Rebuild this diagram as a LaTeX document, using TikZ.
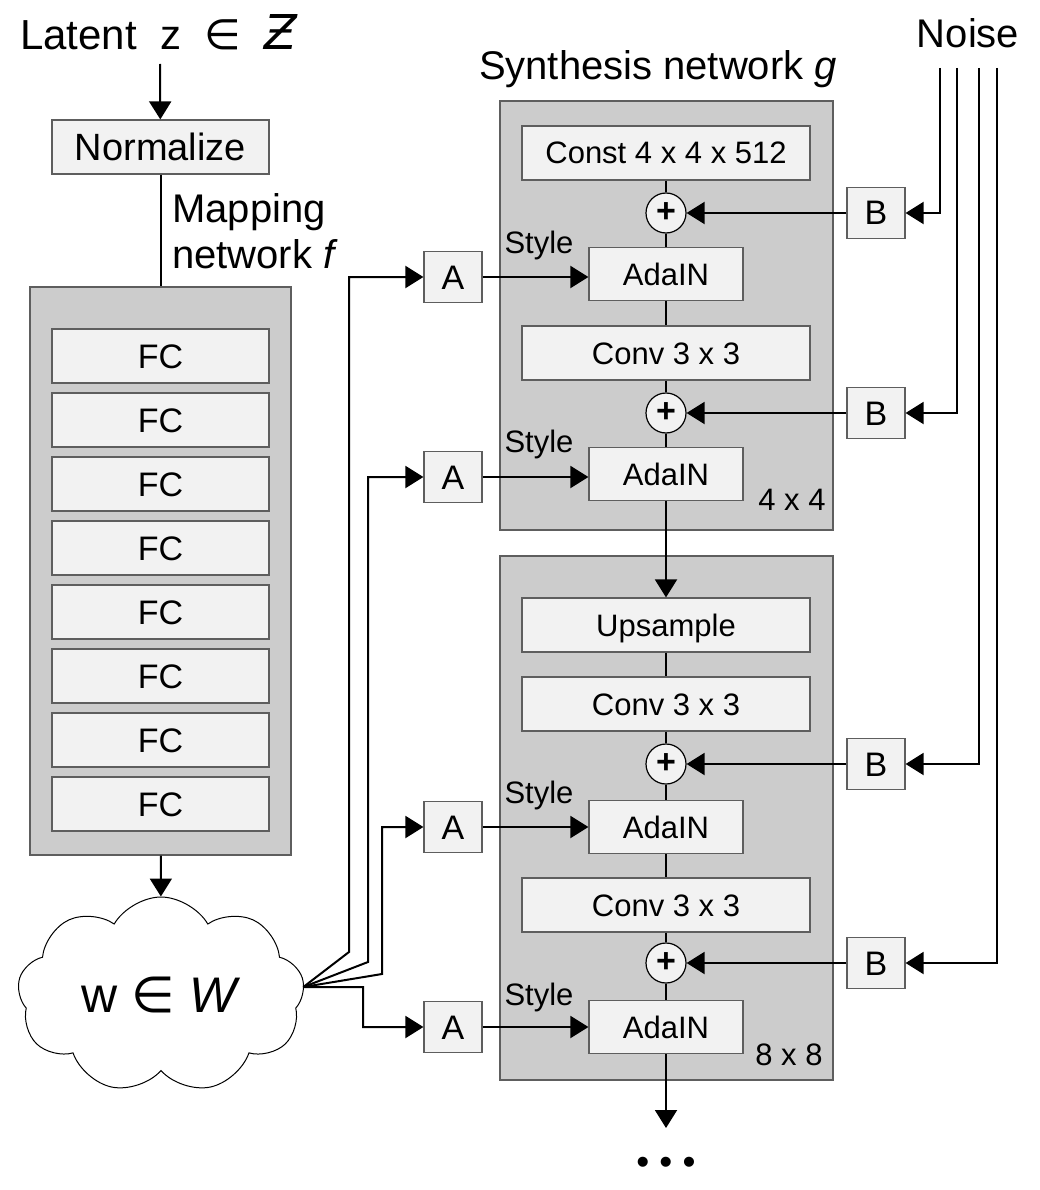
\documentclass[tikz,border=0pt]{standalone}
\usepackage{fontspec}
\setmainfont{Liberation Sans}
\newfontfamily\symfont{DejaVu Sans}
\usetikzlibrary{arrows.meta,shapes.symbols}

\definecolor{boxfill}{HTML}{F2F2F2}
\definecolor{stagefill}{HTML}{CCCCCC}
\definecolor{boxline}{HTML}{5E5E5E}

\newcommand{\boxsize}{\fontsize{31}{36}\selectfont}
\newcommand{\labsize}{\fontsize{40}{46}\selectfont}

\begin{document}
\begin{tikzpicture}[
  x=1pt, y=-1pt,
  box/.style={rectangle, draw=boxline, fill=boxfill, line width=1.2pt, inner sep=0pt,
    text height=22pt, text depth=0pt, font=\boxsize},
  widebox/.style={box, minimum width=288pt, minimum height=54pt},
  fcbox/.style={box, minimum width=217pt, minimum height=54pt},
  adabox/.style={box, minimum width=154pt, minimum height=53pt},
  abbox/.style={box, minimum width=58pt, minimum height=51pt,
    text height=24pt, font=\fontsize{34}{38}\selectfont},
  stage/.style={rectangle, draw=boxline, fill=stagefill, line width=1.2pt, inner sep=0pt},
  sum/.style={circle, draw=black, fill=boxfill, minimum size=40pt, inner sep=0pt,
    line width=1.2pt, font=\fontsize{34}{34}\selectfont\bfseries},
  link/.style={line width=2pt},
  flow/.style={link, -{Triangle[length=18pt, width=22pt]}},
  note/.style={inner sep=0pt, font=\boxsize}
]
  \useasboundingbox (0,0) rectangle (1039,1190);

  % Mapping network f
  \node[inner sep=0pt, anchor=base west, font=\fontsize{42}{46}\selectfont] (latent) at (20,50)
    {Latent\ \ z\ \ {\symfont ∈}\ \ {\symfont\itshape\fontsize{48}{48}\selectfont Ƶ}};
  \coordinate (zin) at (160,64);
  \node[fcbox, text height=27pt, font=\fontsize{38}{42}\selectfont] (norm) at (160.5,147) {Normalize};
  \node[inner sep=0pt, anchor=base west, align=left, font=\labsize] (mapname) at (172,268)
    {Mapping\\network \textit{f}};
  \node[stage, minimum width=261pt, minimum height=568pt] (mapping) at (160.5,571) {};
  \foreach \i in {1,...,8}
    \node[fcbox, text height=24pt, font=\fontsize{34}{38}\selectfont] (fc\i) at (160.5,{356+64*(\i-1)}) {FC};

  \draw[flow] (zin) -- (norm);
  \draw[link] (norm) -- (mapping);

  % Intermediate latent space
  \node[cloud, draw=black, fill=white, line width=1pt, cloud puffs=9, cloud puff arc=120,
    aspect=1.46, minimum width=287pt, minimum height=196pt, inner sep=0pt,
    font=\fontsize{50}{54}\selectfont] (wspace) at (161,995)
    {w {\symfont ∈} \textit{W}};
  \draw[flow] (mapping) -- (wspace);
  \coordinate (fan) at ([yshift=8pt]wspace.east);

  % Synthesis network g
  \node[inner sep=0pt, anchor=base, font=\labsize] (synname) at (658,80)
    {Synthesis network \textit{g}};
  \node[stage, minimum width=333pt, minimum height=429pt] (stage1) at (666.5,315.5) {};
  \node[stage, minimum width=333pt, minimum height=524pt] (stage2) at (666.5,818) {};

  \node[widebox] (const) at (666,153) {Const 4 x 4 x 512};
  \node[sum] (sum1) at (666,213) {+};
  \node[adabox] (adain1) at (666,274) {AdaIN};
  \node[widebox] (conv1) at (666,353) {Conv 3 x 3};
  \node[sum] (sum2) at (666,413) {+};
  \node[adabox] (adain2) at (666,474) {AdaIN};
  \node[note] (res1) at (792,500) {4 x 4};

  \node[widebox] (up) at (666,625) {Upsample};
  \node[widebox] (conv2) at (666,704) {Conv 3 x 3};
  \node[sum] (sum3) at (666,764) {+};
  \node[adabox] (adain3) at (666,827) {AdaIN};
  \node[widebox] (conv3) at (666,905) {Conv 3 x 3};
  \node[sum] (sum4) at (666,963) {+};
  \node[adabox] (adain4) at (666,1027) {AdaIN};
  \node[note] (res2) at (789,1055) {8 x 8};

  \draw[link] (const) -- (sum1) -- (adain1) -- (conv1) -- (sum2) -- (adain2);
  \draw[flow] (adain2) -- (up);
  \draw[link] (up) -- (conv2) -- (sum3) -- (adain3) -- (conv3) -- (sum4) -- (adain4);
  \coordinate (out) at (666,1128);
  \draw[flow] (adain4) -- (out);
  \node[inner sep=0pt, font=\fontsize{37}{40}\selectfont] (more) at (666,1166) {• • •};

  % Styles A
  \node[abbox] (A1) at (453,277) {A};
  \node[abbox] (A2) at (453,477) {A};
  \node[abbox] (A3) at (453,827) {A};
  \node[abbox] (A4) at (453,1027) {A};
  \node[note] (st1) at (539,245) {Style};
  \node[note] (st2) at (539,444) {Style};
  \node[note] (st3) at (539,795) {Style};
  \node[note] (st4) at (539,997) {Style};
  \foreach \i in {1,...,4}
    \draw[flow] (A\i) -- (A\i -| adain\i.west);

  \draw[flow] (fan) -- (349,952) |- (A1);
  \draw[flow] (fan) -- (368,962) |- (A2);
  \draw[flow] (fan) -- (382,974) |- (A3);
  \draw[flow] (fan) -- (363,987) |- (A4);

  % Noise B
  \node[inner sep=0pt, anchor=base, font=\labsize] (noise) at (968,48) {Noise};
  \node[abbox] (B1) at (876,213) {B};
  \node[abbox] (B2) at (876,413) {B};
  \node[abbox] (B3) at (876,764) {B};
  \node[abbox] (B4) at (876,963) {B};
  \foreach \i/\x in {1/940,2/957,3/979,4/997} {
    \coordinate (n\i) at (\x,68);
    \draw[flow] (n\i) |- (B\i);
    \draw[flow] (B\i) -- (sum\i);
  }
\end{tikzpicture}
\end{document}
